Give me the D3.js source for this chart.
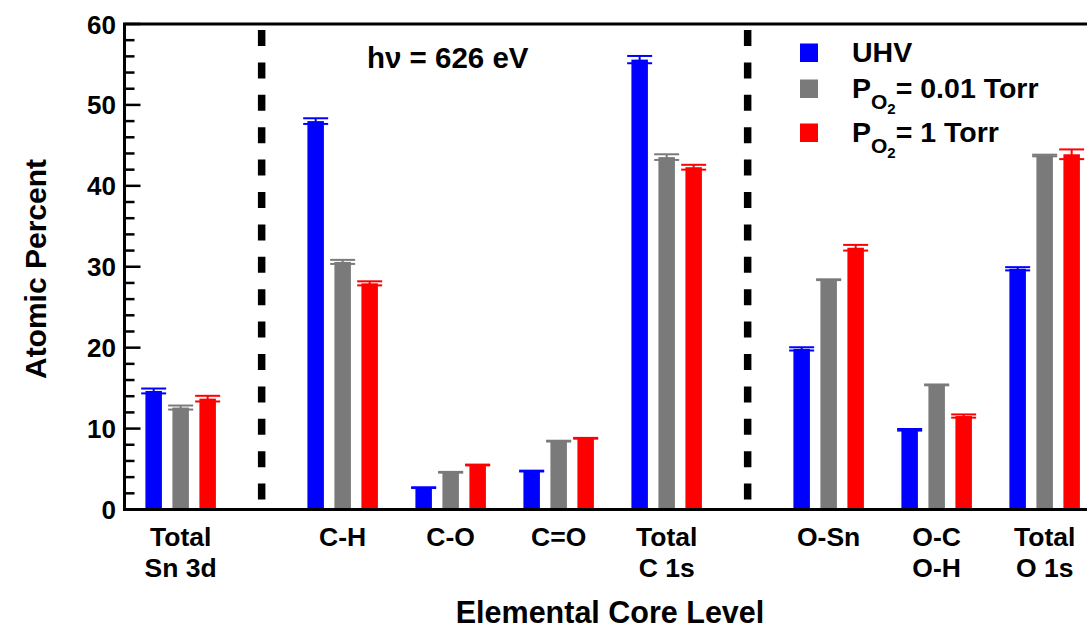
<!DOCTYPE html>
<html>
<head>
<meta charset="utf-8">
<script src="https://cdn.jsdelivr.net/npm/d3@7"></script>
<style>
  html, body { margin: 0; padding: 0; background: #fff; }
  svg text { font-family: "Liberation Sans", Arial, Helvetica, sans-serif; font-weight: bold; fill: #000; }
</style>
</head>
<body>
<svg id="chart" width="1087" height="629"></svg>
<script>
// Core levels along the x axis; "\n" splits a label over two lines
const categories = ["Total\nSn 3d", "C-H", "C-O", "C=O", "Total\nC 1s", "O-Sn", "O-C\nO-H", "Total\nO 1s"];
// Element each core level belongs to (groups are separated by dashed lines)
const groups = ["Sn", "C", "C", "C", "C", "O", "O", "O"];

// Atomic percent and its uncertainty for each condition
const uhv       = [14.65, 48.0, 2.7, 4.75, 55.6, 19.85, 9.85, 29.75];
const uhvErr    = [0.3, 0.35, 0.05, 0.05, 0.45, 0.2, 0.1, 0.2];
const po2Low    = [12.6, 30.6, 4.6, 8.45, 43.55, 28.4, 15.4, 43.75];
const po2LowErr = [0.25, 0.25, 0.05, 0.05, 0.35, 0.05, 0.05, 0.1];
const po2High   = [13.7, 27.95, 5.5, 8.8, 42.3, 32.35, 11.55, 43.9];
const po2HighErr= [0.35, 0.25, 0.05, 0.05, 0.3, 0.35, 0.2, 0.6];

const yTicks = [0, 10, 20, 30, 40, 50, 60];

const series = [
  { name: "UHV",  sub: null,   values: uhv,     errs: uhvErr,     color: "#0000ff" },
  { name: "P",    sub: "= 0.01 Torr", values: po2Low,  errs: po2LowErr,  color: "#7a7a7a" },
  { name: "P",    sub: "= 1 Torr",    values: po2High, errs: po2HighErr, color: "#ff0000" }
];

const svg = d3.select("#chart");
const margin = { left: 124.5, top: 24, bottom: 509.5 };

// Slot index of each category: half an extra slot between element groups
const slots = [];
let s = 0;
categories.forEach((c, i) => {
  if (i > 0) s += (groups[i] !== groups[i - 1]) ? 1.5 : 1;
  slots.push(s);
});
const slotPx = 108;
const x = d3.scaleLinear()
  .domain([-0.52, slots[slots.length - 1] + 0.52])
  .range([margin.left, margin.left + (slots[slots.length - 1] + 1.04) * slotPx]);
const y = d3.scaleLinear().domain([0, 60]).range([margin.bottom, margin.top]);

const barW = 16.5;
const offset = 27;
const capW = 25;

// Dashed separators between element groups
const seps = [];
for (let i = 1; i < categories.length; i++) {
  if (groups[i] !== groups[i - 1]) seps.push((slots[i] + slots[i - 1]) / 2);
}
svg.selectAll("line.sep").data(seps).join("line")
  .attr("class", "sep")
  .attr("x1", d => x(d)).attr("x2", d => x(d))
  .attr("y1", margin.top + 6).attr("y2", margin.bottom)
  .attr("stroke", "#000").attr("stroke-width", 7.5)
  .attr("stroke-dasharray", "16,16.4");

// Bars and error bars
series.forEach((ser, k) => {
  const dx = (k - 1) * offset;
  const g = svg.append("g");
  g.selectAll("rect").data(ser.values).join("rect")
    .attr("x", (d, i) => x(slots[i]) + dx - barW / 2)
    .attr("width", barW)
    .attr("y", d => y(d))
    .attr("height", d => y(0) - y(d))
    .attr("fill", ser.color);
  const eb = g.selectAll("g.err").data(ser.values.map((v, i) => ({ v, e: ser.errs[i], i })))
    .join("g").attr("class", "err");
  eb.append("line")
    .attr("x1", d => x(slots[d.i]) + dx).attr("x2", d => x(slots[d.i]) + dx)
    .attr("y1", d => y(d.v + d.e)).attr("y2", d => y(d.v - d.e))
    .attr("stroke", ser.color).attr("stroke-width", 2);
  [1, -1].forEach(sign => {
    eb.append("line")
      .attr("x1", d => x(slots[d.i]) + dx - capW / 2)
      .attr("x2", d => x(slots[d.i]) + dx + capW / 2)
      .attr("y1", d => y(d.v + sign * d.e)).attr("y2", d => y(d.v + sign * d.e))
      .attr("stroke", ser.color).attr("stroke-width", 2);
  });
});

// Frame: left axis, bottom axis and top border
const right = 1100;
svg.append("path")
  .attr("d", `M${right},${margin.top}H${margin.left}V${margin.bottom}H${right}`)
  .attr("fill", "none").attr("stroke", "#000").attr("stroke-width", 3);

// Y axis ticks pointing inward, minor every 2
const minor = d3.range(0, 61, 2);
svg.selectAll("line.ytick").data(minor).join("line")
  .attr("class", "ytick")
  .attr("x1", margin.left)
  .attr("x2", d => margin.left + (d % 10 === 0 ? 16 : 10))
  .attr("y1", d => y(d)).attr("y2", d => y(d))
  .attr("stroke", "#000").attr("stroke-width", 2.5);

svg.selectAll("text.ylab").data(yTicks).join("text")
  .attr("class", "ylab")
  .attr("x", 116).attr("y", d => y(d) + 9.5)
  .attr("text-anchor", "end")
  .style("font-size", "26px")
  .text(d => d);

// Category labels
categories.forEach((c, i) => {
  const t = svg.append("text")
    .attr("x", x(slots[i]))
    .attr("y", 546)
    .attr("text-anchor", "middle")
    .style("font-size", "26.5px");
  c.split("\n").forEach((line, j) => {
    t.append("tspan").attr("x", x(slots[i])).attr("dy", j === 0 ? 0 : 31).text(line);
  });
});

// Axis titles
svg.append("text")
  .attr("x", 610).attr("y", 623)
  .attr("text-anchor", "middle")
  .style("font-size", "30.5px")
  .text("Elemental Core Level");
svg.append("text")
  .attr("transform", `translate(46,${269}) rotate(-90)`)
  .attr("text-anchor", "middle")
  .style("font-size", "30px")
  .text("Atomic Percent");

// Photon energy annotation
svg.append("text")
  .attr("x", 367).attr("y", 68)
  .style("font-size", "29.5px")
  .text("hν = 626 eV");

// Legend
const legendRows = [62, 98, 142];
series.forEach((ser, k) => {
  const by = legendRows[k];
  svg.append("rect")
    .attr("x", 800).attr("y", by - 18.5)
    .attr("width", 18).attr("height", 18.5)
    .attr("fill", ser.color);
  const t = svg.append("text").attr("x", 852).attr("y", by).style("font-size", "28.5px");
  if (ser.sub === null) {
    t.text(ser.name);
  } else {
    t.append("tspan").text(ser.name);
    t.append("tspan").attr("dy", 11).style("font-size", "21px").text("O");
    t.append("tspan").attr("dy", 5).style("font-size", "15px").text("2");
    t.append("tspan").attr("dy", -16).text(ser.sub);
  }
});
</script>
</body>
</html>
